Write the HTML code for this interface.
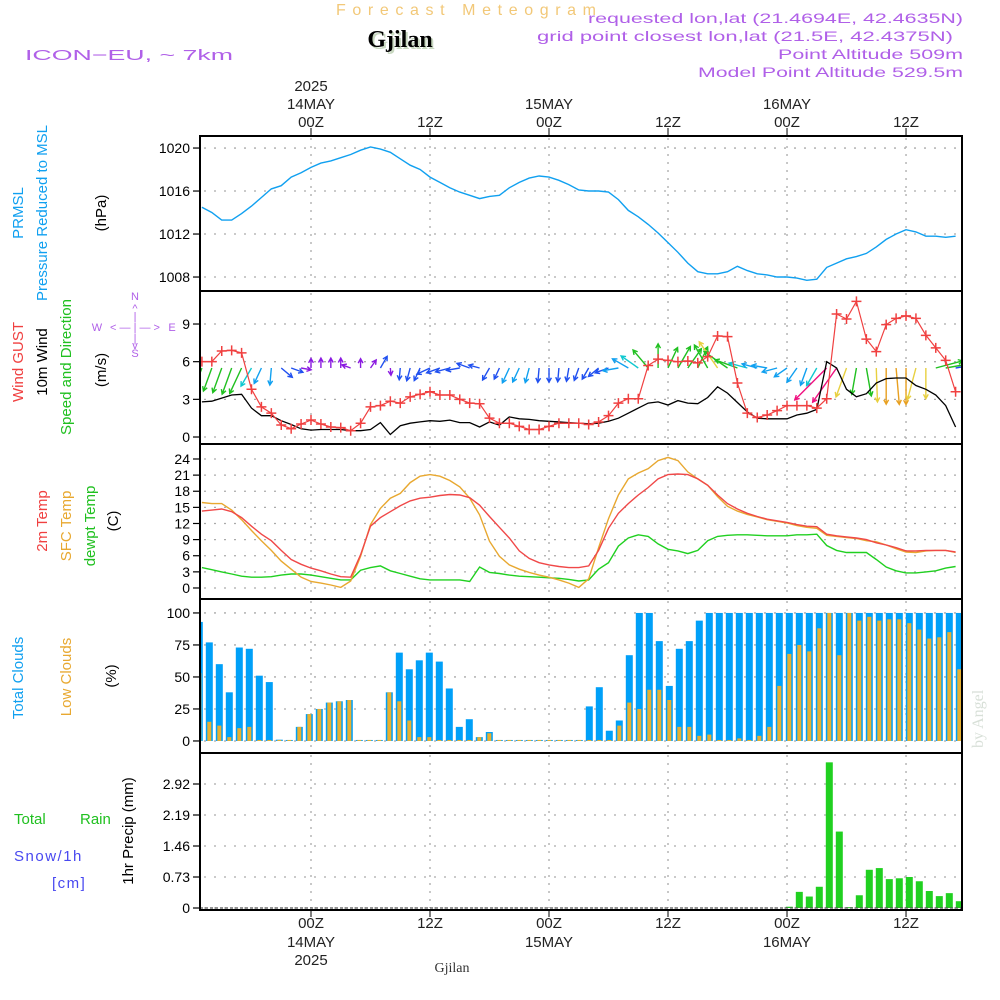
<!DOCTYPE html>
<html><head><meta charset="utf-8"><style>
html,body{margin:0;padding:0;background:#fff;}
svg{display:block;font-family:"Liberation Sans",sans-serif;}
</style></head><body>
<svg id="chart" width="1000" height="1000" viewBox="0 0 1000 1000" xmlns="http://www.w3.org/2000/svg">
<defs><clipPath id="plotclip"><rect x="200" y="130" width="762" height="785"/></clipPath></defs>
<text x="467" y="15" text-anchor="middle" font-size="16" fill="#f2c878" textLength="262" lengthAdjust="spacing" letter-spacing="2">Forecast Meteogram</text>
<text x="402" y="49" text-anchor="middle" font-family="Liberation Serif,serif" font-weight="bold" font-size="24" fill="#c8d8c0">Gjilan</text>
<text x="400" y="47" text-anchor="middle" font-family="Liberation Serif,serif" font-weight="bold" font-size="24" fill="#000">Gjilan</text>
<text x="25" y="60" font-size="15" fill="#b060e8" textLength="208" lengthAdjust="spacingAndGlyphs">ICON−EU, ~ 7km</text>
<g fill="#b060e8" font-size="14" text-anchor="end">
<text x="963" y="23" textLength="375" lengthAdjust="spacingAndGlyphs">requested lon,lat (21.4694E, 42.4635N)</text>
<text x="953" y="41" textLength="416" lengthAdjust="spacingAndGlyphs">grid point closest lon,lat (21.5E, 42.4375N)</text>
<text x="963" y="59" textLength="185" lengthAdjust="spacingAndGlyphs">Point Altitude 509m</text>
<text x="963" y="77" textLength="265" lengthAdjust="spacingAndGlyphs">Model Point Altitude 529.5m</text>
</g>
<text transform="translate(983,748) rotate(-90)" font-family="Liberation Serif,serif" font-size="16" fill="#d8e0d8">by Angel</text>
<text x="452" y="972" text-anchor="middle" font-family="Liberation Serif,serif" font-size="14" fill="#333">Gjilan</text>
<g id="plots"></g>
</svg>
<script>
// ---- data (hourly, t = -11 .. 65 hours from 14MAY 00Z) ----
const hours = Array.from({length:77},(_,i)=>i-11);
const pressure = [1014.5,1014.0,1013.3,1013.3,1013.9,1014.6,1015.4,1016.2,1016.5,1017.3,1017.7,1018.2,1018.6,1018.8,1019.1,1019.4,1019.8,1020.1,1019.9,1019.6,1019.0,1018.4,1018.0,1017.3,1016.8,1016.3,1015.9,1015.6,1015.3,1015.5,1015.6,1016.3,1016.8,1017.2,1017.4,1017.3,1017.0,1016.6,1016.1,1016.0,1016.0,1015.9,1015.2,1014.2,1013.6,1012.9,1012.1,1011.2,1010.3,1009.3,1008.5,1008.3,1008.3,1008.5,1009.0,1008.6,1008.3,1008.2,1008.0,1008.0,1007.9,1007.7,1007.8,1008.9,1009.3,1009.7,1009.9,1010.2,1010.8,1011.5,1012.0,1012.4,1012.2,1011.8,1011.8,1011.7,1011.8];
const gust = [6.0,6.0,6.85,6.9,6.7,3.8,2.4,1.9,0.96,0.66,1.04,1.35,1.04,0.8,0.75,0.5,1.1,2.4,2.5,2.85,2.7,3.2,3.4,3.6,3.35,3.35,3.0,2.7,2.65,1.5,1.1,1.1,0.85,0.6,0.6,0.85,1.1,1.1,1.1,1.0,1.2,1.7,2.7,3.05,3.05,5.7,6.2,6.1,6.0,6.05,5.9,6.4,8.05,8.0,4.3,1.9,1.55,1.75,2.1,2.5,2.5,2.5,2.3,3.05,9.8,9.4,10.8,7.8,6.8,8.95,9.45,9.65,9.45,8.1,7.1,6.1,3.6];
const wind = [2.8,2.85,3.1,3.35,3.4,2.3,1.7,1.7,1.3,1.0,0.65,0.55,0.6,0.6,0.6,0.5,0.5,0.6,1.15,0.2,0.9,1.1,1.2,1.3,1.25,1.35,1.15,1.15,0.8,1.2,0.95,1.6,1.45,1.4,1.3,1.25,1.2,1.15,1.1,1.05,1.1,1.25,1.5,1.9,2.3,2.7,2.8,2.55,2.9,2.7,2.65,3.15,4.0,3.5,2.75,2.0,1.5,1.45,1.45,1.45,1.75,1.9,2.2,6.0,5.5,3.8,3.2,3.45,4.3,4.65,4.7,4.7,4.1,3.8,3.35,2.5,0.8];
const windDir = [200,200,200,200,205,210,205,185,130,110,100,0,0,0,0,290,0,35,30,175,185,195,205,245,250,255,260,290,285,210,205,205,205,195,185,180,185,190,200,210,230,250,260,300,305,320,0,25,30,35,25,330,325,305,290,285,285,280,255,235,215,200,210,225,215,200,190,170,178,180,175,180,195,180,75,80,80];
const temp2m = [14.3,14.5,14.7,14.2,13.1,11.5,10.0,8.8,7.0,5.3,4.4,3.7,3.2,2.6,2.1,2.0,6.2,11.5,13.1,14.2,15.3,16.2,16.7,16.9,17.2,17.4,17.3,16.8,15.4,13.3,11.3,9.3,6.9,5.5,4.7,4.3,4.0,3.8,3.8,4.1,7.0,11.1,13.9,15.7,17.3,18.7,20.3,21.1,21.2,21.1,20.3,19.1,17.3,15.7,14.7,13.9,13.3,12.8,12.5,12.2,11.8,11.5,11.4,10.0,9.7,9.5,9.3,9.0,8.4,8.0,7.5,6.9,6.9,7.0,7.0,7.0,6.7];
const tempSfc = [15.9,15.7,15.7,14.5,12.7,10.7,8.8,7.0,5.0,3.5,2.0,1.2,0.9,0.55,0.1,1.3,5.9,11.8,14.8,16.7,17.6,19.6,20.8,21.1,20.8,20.0,18.8,16.7,13.6,8.7,5.9,4.3,3.5,2.9,2.4,2.0,1.5,0.9,0.1,1.7,7.5,12.9,17.3,20.3,21.4,22.2,23.7,24.3,23.7,21.6,20.3,19.1,17.0,15.2,14.3,13.7,13.2,12.7,12.4,12.1,11.6,11.3,11.1,9.8,9.6,9.4,9.2,8.8,8.6,8.0,7.3,6.7,6.6,6.9,7.0,7.0,6.6];
const dewpt = [3.8,3.4,3.0,2.6,2.2,2.0,2.0,2.1,2.4,2.6,2.6,2.4,2.1,1.8,1.5,1.5,3.3,3.8,4.1,3.2,2.7,2.2,1.7,1.5,1.5,1.5,1.5,1.2,3.9,2.9,2.7,2.4,2.2,2.1,2.0,1.9,1.8,1.6,1.3,1.5,3.5,4.7,7.8,9.3,9.9,9.6,8.2,7.2,6.9,6.4,7.0,8.8,9.6,9.8,9.9,9.9,9.8,9.7,9.7,9.7,9.9,9.9,10.0,7.9,7.0,6.6,6.6,6.6,5.3,3.9,3.2,2.8,2.8,3.0,3.2,3.7,4.0];
const totalClouds = [93,77,60,38,73,72,51,46,1,0.5,11,21,25,30,31,32,0,0,0,38,69,56,63,69,62,41,11,17,3,7,0,0,0,0,0,0,0,0,0,27,42,8,16,67,100,100,78,43,72,78,94,100,100,100,100,100,100,100,100,100,100,100,100,100,100,100,100,100,100,100,100,100,100,100,100,100,100];
const lowClouds = [53,15,12,3,10,11,0,0,0,0,11,21,25,30,31,32,0,0,0,38,31,16,3,3,0,0,0,0,3,6,0,0,0,0,0,0,0,0,0,0,0,0,12,30,25,40,40,32,11,11,4,5,0,0,2,0,4,11,43,68,75,70,88,100,67,100,94,97,94,95,95,92,87,80,81,85,56];
const precip = [0,0,0,0,0,0,0,0,0,0,0,0,0,0,0,0,0,0,0,0,0,0,0,0,0,0,0,0,0,0,0,0,0,0,0,0,0,0,0,0,0,0,0,0,0,0,0,0,0,0,0,0,0,0,0,0,0,0,0,0.03,0.38,0.27,0.5,3.43,1.8,0.02,0.3,0.9,0.94,0.68,0.7,0.73,0.63,0.4,0.28,0.35,0.16];
const pressTicks = [1008,1012,1016,1020];
const windTicks = [0,3,6,9];
const tempTicks = [0,3,6,9,12,15,18,21,24];
const cloudTicks = [0,25,50,75,100];
const precipTicks = [0,0.73,1.46,2.19,2.92];
const timeTickHours = [0,12,24,36,48,60];
const timeTickLabels = ["00Z","12Z","00Z","12Z","00Z","12Z"];
const dayLabels = {0:["14MAY","2025"],24:["15MAY"],48:["16MAY"]};

const NS="http://www.w3.org/2000/svg";
const root=document.getElementById('plots');
const X0=200,X1=962;
const xT=t=>311+t*9.917;
const xB=t=>309.3+t*10;
function el(tag,attrs,parent){const e=document.createElementNS(NS,tag);for(const k in attrs)e.setAttribute(k,attrs[k]);(parent||root).appendChild(e);return e;}
function txt(s,attrs,parent){const e=el('text',attrs,parent);e.textContent=s;return e;}
const panels=[
 {name:'pressure',y0:136,y1:291,min:1006.7,max:1021.12},
 {name:'wind',y0:291,y1:444,min:-0.557,max:11.63},
 {name:'temp',y0:444,y1:599,min:-2.05,max:26.79},
 {name:'clouds',y0:599,y1:753,min:-9.4,max:110.9},
 {name:'precip',y0:753,y1:910,min:-0.047,max:3.65},
];
const ticks=[pressTicks,windTicks,tempTicks,cloudTicks,precipTicks];
const tickFmt=[v=>v,v=>v,v=>v,v=>v,v=>v===0?'0':v.toFixed(2)];
panels.forEach((p,i)=>{
  p.y=v=>p.y1-(v-p.min)/(p.max-p.min)*(p.y1-p.y0);
  const g=el('g',{'clip-path':'url(#plotclip)'});
  
  
  p.g=g;
  timeTickHours.forEach(h=>{
    const l=el('line',{x1:xT(h),x2:xT(h),y1:p.y0+2,y2:p.y1-2,stroke:'#aaa','stroke-width':1.3,'stroke-dasharray':'2,6'},g);
    
    
  });
  ticks[i].forEach(v=>{
    const yy=p.y(v);
    const l=el('line',{x1:X0+4,x2:X1-2,y1:yy,y2:yy,stroke:'#aaa','stroke-width':1.3,'stroke-dasharray':'2,8'},g);
    
    
    el('line',{x1:X0-7,x2:X0,y1:yy,y2:yy,stroke:'#000','stroke-width':1.2});
    const t=txt(String(tickFmt[i](v)),{x:X0-10,y:yy+5,'text-anchor':'end','font-size':14,fill:'#000'});
    
    
  });
});
function line(p,arr,color,name,w){
  const d=arr.map((v,i)=>(i?'L':'M')+xT(hours[i]).toFixed(1)+','+p.y(v).toFixed(1)).join('');
  const e=el('path',{d:d,fill:'none',stroke:color,'stroke-width':w||1.4},p.g);
  
  
  return e;
}
line(panels[0],pressure,'#10a0f0','pressure-line',1.4);
const pw=panels[1];
function arrowColor(s){if(s<0.8)return'#8a1ae0';if(s<1.4)return'#2050f0';if(s<2.0)return'#10a0f0';if(s<2.5)return'#10c8d0';if(s<3.8)return'#20c020';if(s<4.5)return'#e8d040';if(s<5.0)return'#e8a020';return'#f01080';}
windDir.forEach((d,i)=>{
  const s=wind[i],L=6+6.5*s,a=d*Math.PI/180;
  const x1=xT(hours[i]),y1=368,x2=x1+L*Math.sin(a),y2=y1-L*Math.cos(a);
  const c=arrowColor(s);
  const h=5,b1=a+Math.PI-0.5,b2=a+Math.PI+0.5;
  const e=el('path',{d:`M${x1},${y1}L${x2},${y2}M${x2+h*Math.sin(b1)},${y2-h*Math.cos(b1)}L${x2},${y2}L${x2+h*Math.sin(b2)},${y2-h*Math.cos(b2)}`,stroke:c,'stroke-width':1.4,fill:'none'},pw.g);
  
  
});
line(pw,wind,'#000','wind-speed-line',1.3);
line(pw,gust,'#f04040','wind-gust-line',1.2);
gust.forEach((v,i)=>{
  const x=xT(hours[i]),y=pw.y(v);
  const e=el('path',{d:`M${x-5},${y}H${x+5}M${x},${y-5}V${y+5}`,stroke:'#f04040','stroke-width':1.5},pw.g);
  
  
});
const pt=panels[2];
line(pt,dewpt,'#20d020','dewpoint-line',1.4);
line(pt,tempSfc,'#e8a830','sfc-temp-line',1.4);
line(pt,temp2m,'#f04848','temp-2m-line',1.4);
const pc=panels[3];
totalClouds.forEach((v,i)=>{
  const x=xB(hours[i]);const y=pc.y(v);const y0=pc.y(0);
  const r=el('rect',{x:x-3.5,y:Math.min(y,y0-1),width:7,height:Math.max(y0-y,1),fill:'#00a0f8'},pc.g);
  
  
});
lowClouds.forEach((v,i)=>{
  const x=xB(hours[i]);const y=pc.y(v);const y0=pc.y(0);
  const r=el('rect',{x:x-2,y:Math.min(y,y0-1),width:4,height:Math.max(y0-y,1),fill:'#e8b030'},pc.g);
  
  
});
const pp=panels[4];
precip.forEach((v,i)=>{
  if(v<=0)return;
  const x=xB(hours[i]);const y=pp.y(v);const y0=pp.y(0);
  const r=el('rect',{x:x-3.5,y:y,width:7,height:Math.max(y0-y,1),fill:'#20d020'},pp.g);
  
  
});
el('line',{x1:X0,x2:X1,y1:pp.y(0),y2:pp.y(0),stroke:'#555','stroke-width':1.2,'stroke-dasharray':'3,2'},pp.g);
panels.forEach(p=>{
  const r=el('rect',{x:X0,y:p.y0,width:X1-X0,height:p.y1-p.y0,fill:'none',stroke:'#000','stroke-width':2});
  
  
});
timeTickHours.forEach((h,i)=>{
  const x=xT(h);
  el('line',{x1:x,x2:x,y1:128,y2:136,stroke:'#000','stroke-width':1});
  el('line',{x1:x,x2:x,y1:910,y2:917,stroke:'#000','stroke-width':1});
  const a=txt(timeTickLabels[i],{x:x,y:127,'text-anchor':'middle','font-size':15,fill:'#222'});
  
  
  const b=txt(timeTickLabels[i],{x:x,y:928,'text-anchor':'middle','font-size':15,fill:'#222'});
  
  
  const dl=dayLabels[h];
  if(dl){
    dl.forEach((s,k)=>{
      const c=txt(s,{x:x,y:109-18*k,'text-anchor':'middle','font-size':15,fill:'#222'});
      
      
      const d=txt(s,{x:x,y:947+18*k,'text-anchor':'middle','font-size':15,fill:'#222'});
      
      
    });
  }
});
function vlab(s,x,y,color,name,size){
  const e=txt(s,{transform:`translate(${x},${y}) rotate(-90)`,'text-anchor':'middle','font-size':size||15,fill:color});
  
  
}
vlab('PRMSL',23,213,'#10a0f0','prmsl-label');
vlab('Pressure Reduced to MSL',47,213,'#10a0f0','pressure-label');
vlab('(hPa)',106,213,'#000','hpa-label');
vlab('Wind GUST',23,362,'#f04040','gust-label');
vlab('10m Wind',47,362,'#000','wind-label');
vlab('Speed and Direction',71,367,'#20c020','speed-dir-label');
vlab('(m/s)',106,370,'#000','ms-label');
vlab('2m Temp',47,521,'#f04040','temp-label');
vlab('SFC Temp',71,526,'#e8a830','sfc-label');
vlab('dewpt Temp',95,526,'#20c020','dewpt-label');
vlab('(C)',118,521,'#000','c-label');
vlab('Total Clouds',23,678,'#10a0f0','total-clouds-label');
vlab('Low Clouds',71,677,'#e8a830','low-clouds-label');
vlab('(%)',116,676,'#000','pct-label');
vlab('1hr Precip (mm)',133,831,'#000','precip-label');
const comp=el('g',{fill:'#b060e8','font-size':11,'text-anchor':'middle'});


[['N',135,300],['W',97,331],['E',172,331],['S',135,357]].forEach(a=>txt(a[0],{x:a[1],y:a[2]},comp));
txt('< — | — >',{x:135,y:331},comp);
txt('^',{x:135,y:312},comp);txt('|',{x:135,y:320},comp);txt('|',{x:135,y:342},comp);txt('v',{x:135,y:349},comp);
const tr=txt('Total',{x:14,y:824,'font-size':15,fill:'#20c020'});

const rn=txt('Rain',{x:80,y:824,'font-size':15,fill:'#20c020'});

const sn=txt('Snow/1h',{x:14,y:861,'font-size':15,fill:'#4848f0','letter-spacing':'1.5'});

const cm=txt('[cm]',{x:52,y:888,'font-size':15,fill:'#4848f0','letter-spacing':'1.5'});

</script>
</body></html>
